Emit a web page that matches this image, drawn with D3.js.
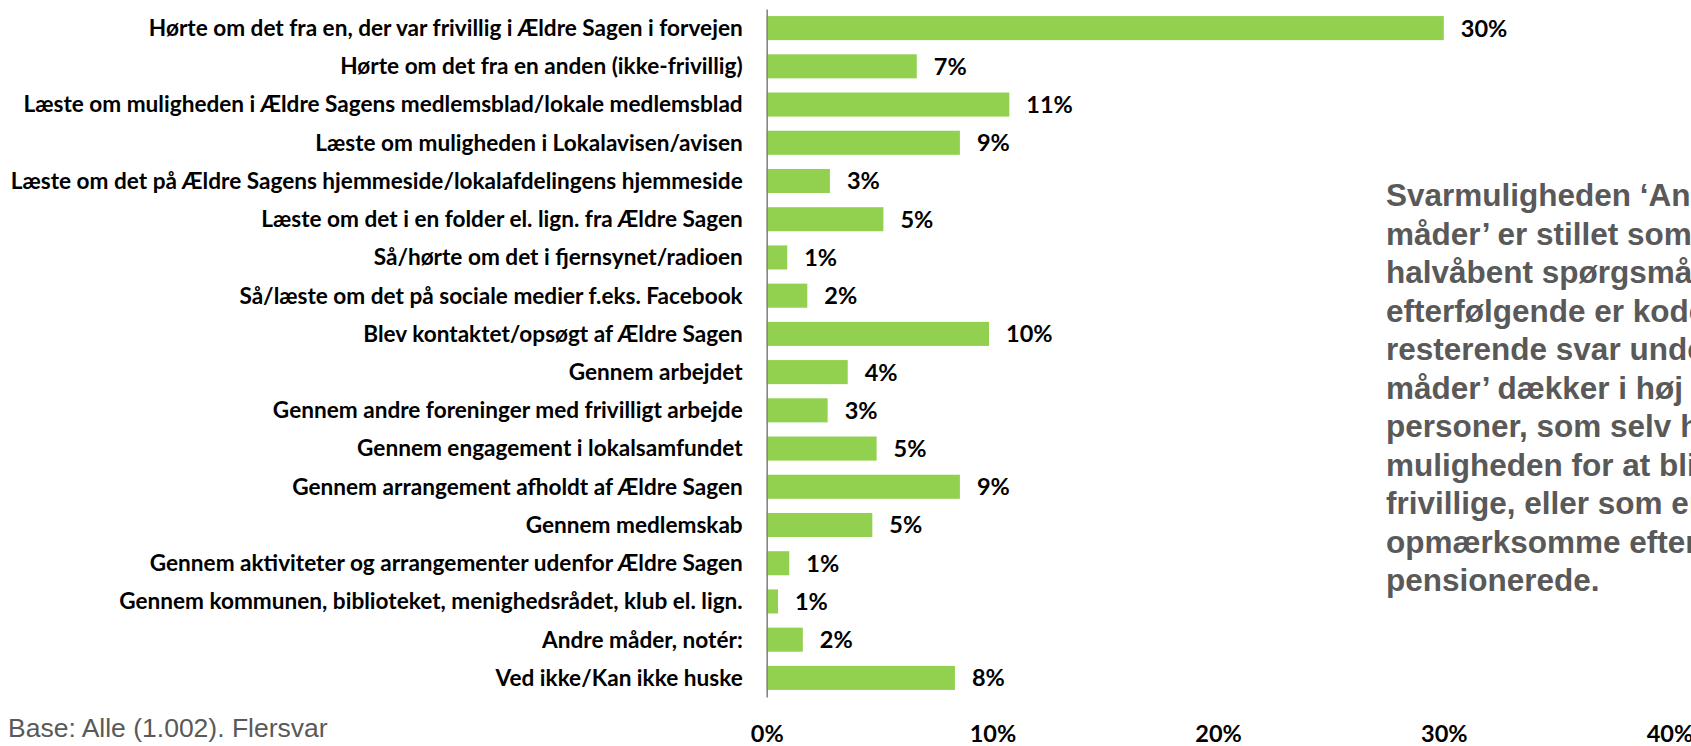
<!DOCTYPE html>
<html>
<head>
<meta charset="utf-8">
<script src="https://cdn.jsdelivr.net/npm/d3@7"></script>
<style>
  html, body { margin: 0; padding: 0; background: #fff; }
  svg { display: block; }
  .cat text { font-family: Lato, sans-serif; font-weight: 700; font-size: 22.6px; fill: #000; }
  .value { font-family: Lato, sans-serif; font-weight: 700; font-size: 23.5px; fill: #000; }
  .x.axis text { font-family: Lato, sans-serif; font-weight: 700; font-size: 23.5px; fill: #000; }
  .note { font-family: 'Liberation Sans', Arial, sans-serif; font-weight: 700; font-size: 31.5px; fill: #595959; }
  .base { font-family: 'Liberation Sans', Arial, sans-serif; font-size: 26.5px; fill: #595959; }
</style>
</head>
<body>
<div id="chart"></div>
<script>
  var categories = [
    'Hørte om det fra en, der var frivillig i Ældre Sagen i forvejen',
    'Hørte om det fra en anden (ikke-frivillig)',
    'Læste om muligheden i Ældre Sagens medlemsblad/lokale medlemsblad',
    'Læste om muligheden i Lokalavisen/avisen',
    'Læste om det på Ældre Sagens hjemmeside/lokalafdelingens hjemmeside',
    'Læste om det i en folder el. lign. fra Ældre Sagen',
    'Så/hørte om det i fjernsynet/radioen',
    'Så/læste om det på sociale medier f.eks. Facebook',
    'Blev kontaktet/opsøgt af Ældre Sagen',
    'Gennem arbejdet',
    'Gennem andre foreninger med frivilligt arbejde',
    'Gennem engagement i lokalsamfundet',
    'Gennem arrangement afholdt af Ældre Sagen',
    'Gennem medlemskab',
    'Gennem aktiviteter og arrangementer udenfor Ældre Sagen',
    'Gennem kommunen, biblioteket, menighedsrådet, klub el. lign.',
    'Andre måder, notér:',
    'Ved ikke/Kan ikke huske'
  ];

  // shares in percent
  var values = [30.0, 6.65, 10.75, 8.56, 2.8, 5.17, 0.91, 1.8, 9.85, 3.59, 2.7, 4.87, 8.56, 4.68, 1.0, 0.5, 1.6, 8.34];

  var xTicks = [0, 10, 20, 30, 40];

  var noteLines = [
    'Svarmuligheden ‘Andre',
    'måder’ er stillet som et',
    'halvåbent spørgsmål, og',
    'efterfølgende er kodet. De',
    'resterende svar under ‘Andre',
    'måder’ dækker i høj grad over',
    'personer, som selv har opsøgt',
    'muligheden for at blive',
    'frivillige, eller som er blevet',
    'opmærksomme efter de er',
    'pensionerede.'
  ];

  var baseText = 'Base: Alle (1.002). Flersvar';

  var width = 1691;
  var height = 746;

  var data = categories.map(function(c, i) { return { label: c, value: values[i] }; });

  var svg = d3.select('#chart')
    .append('svg')
    .attr('width', width)
    .attr('height', height);

  var xScale = d3.scaleLinear().domain([0, 40]).range([766.7, 1669.5]);
  var yScale = d3.scaleBand()
    .domain(categories)
    .range([9, 697])
    .paddingInner(0.37)
    .paddingOuter(0.185);

  // Bars
  svg.append('g')
    .selectAll('rect')
    .data(data)
    .enter().append('rect')
    .attr('x', xScale(0))
    .attr('y', function(d) { return yScale(d.label); })
    .attr('width', function(d) { return xScale(d.value) - xScale(0); })
    .attr('height', yScale.bandwidth())
    .attr('fill', '#92d050');

  // Category axis (the grey vertical line is its domain)
  var yAxis = d3.axisLeft(yScale).tickSize(0).tickPadding(24);
  var yg = svg.append('g')
    .attr('class', 'cat')
    .attr('transform', 'translate(' + xScale(0) + ',0)')
    .call(yAxis);
  yg.select('.domain').attr('stroke', '#868686').attr('stroke-width', 1.6);
  yg.selectAll('text').attr('dy', '0.35em');

  // Value labels
  svg.append('g')
    .selectAll('text')
    .data(data)
    .enter().append('text')
    .attr('class', 'value')
    .attr('x', function(d) { return xScale(d.value) + 17; })
    .attr('y', function(d) { return yScale(d.label) + yScale.bandwidth() / 2; })
    .attr('dy', '0.36em')
    .text(function(d) { return Math.round(d.value) + '%'; });

  // Percent axis
  var xAxis = d3.axisBottom(xScale)
    .tickValues(xTicks)
    .tickSize(0)
    .tickFormat(function(d) { return d + '%'; });
  var xg = svg.append('g')
    .attr('class', 'x axis')
    .attr('transform', 'translate(0,742)')
    .call(xAxis);
  xg.select('.domain').remove();
  xg.selectAll('text').attr('y', 0).attr('dy', 0);

  // Base note
  svg.append('text')
    .attr('class', 'base')
    .attr('x', 8)
    .attr('y', 737)
    .text(baseText);

  // Side comment, cut off by the right edge as in the source
  var note = svg.append('text')
    .attr('class', 'note')
    .attr('x', 1386)
    .attr('y', 206);
  note.selectAll('tspan')
    .data(noteLines)
    .enter().append('tspan')
    .attr('x', 1386)
    .attr('dy', function(d, i) { return i === 0 ? 0 : 38.5; })
    .text(function(d) { return d; });
</script>
</body>
</html>
